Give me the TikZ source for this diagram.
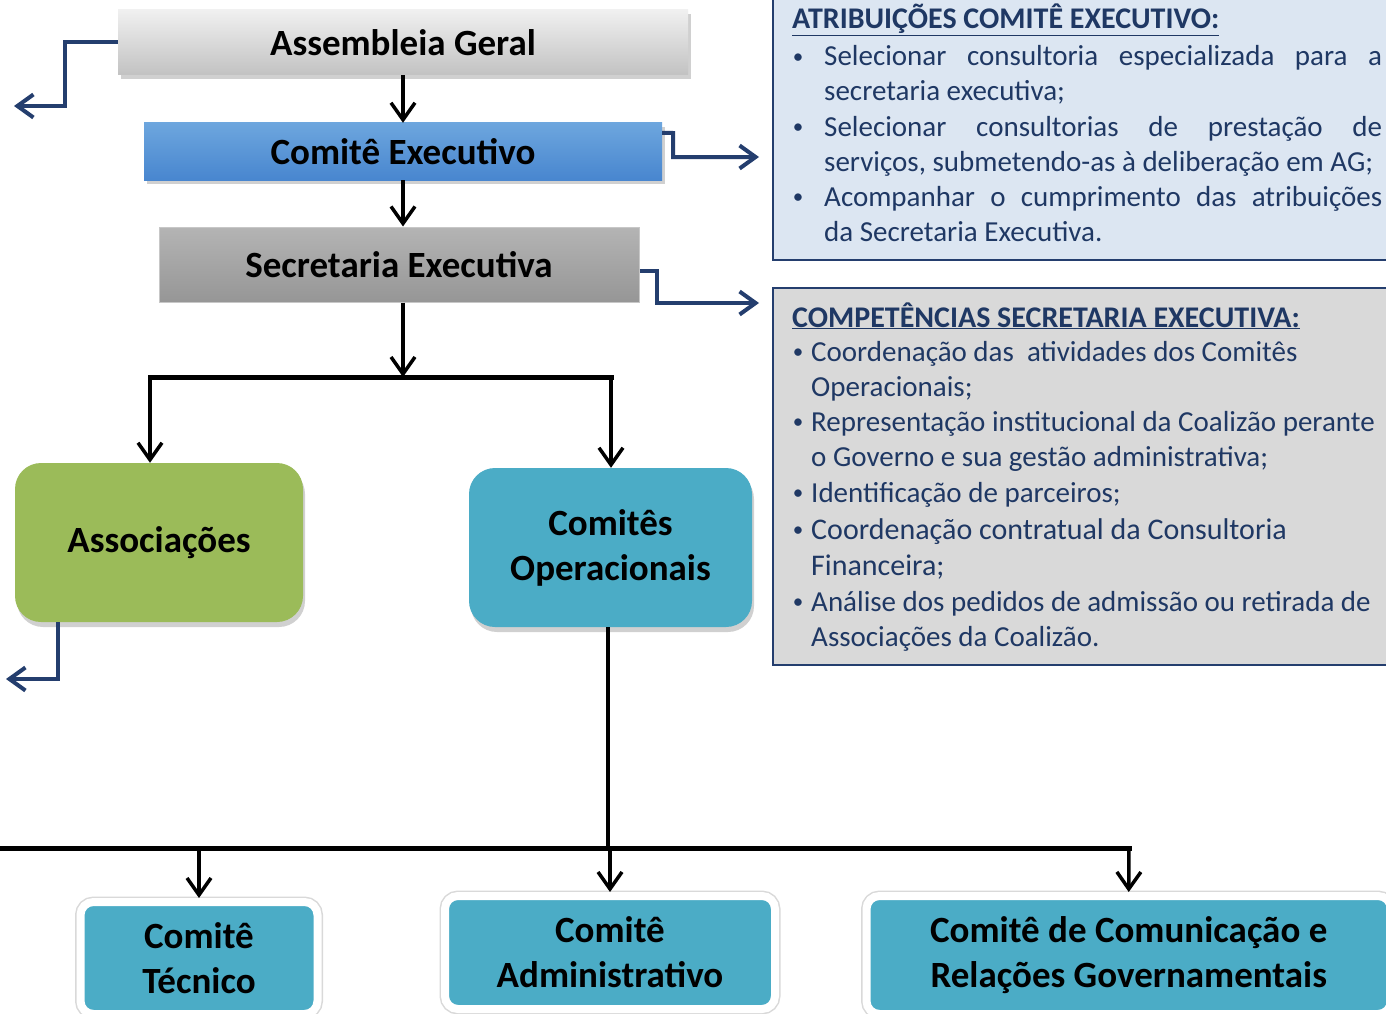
\documentclass[tikz,border=0pt]{standalone}
\usepackage{fontspec}
\setmainfont{Carlito}
\usetikzlibrary{arrows.meta,shadows}
\definecolor{navy}{HTML}{243E6E}
\definecolor{txtnavy}{HTML}{1F3864}
\definecolor{agtop}{HTML}{F0F0F0}
\definecolor{agbot}{HTML}{C2C2C2}
\definecolor{cetop}{HTML}{6DA6DE}
\definecolor{cebot}{HTML}{4886CF}
\definecolor{setop}{HTML}{B4B4B4}
\definecolor{sebot}{HTML}{969696}
\definecolor{grn}{HTML}{9BBB59}
\definecolor{tealc}{HTML}{4BACC6}
\definecolor{pan1}{HTML}{DCE6F2}
\definecolor{pan2}{HTML}{D9D9D9}
\tikzset{
  lbl/.style={inner sep=0pt, align=center, font=\bfseries\fontsize{37}{45}\selectfont, text=black},
  flatbox/.style={lbl},
  roundbox/.style={lbl, rounded corners=26pt, drop shadow={shadow xshift=2pt, shadow yshift=-5pt, opacity=0.3, fill=black!60}},
  btmbox/.style={lbl, fill=tealc, draw=white, line width=8pt, rounded corners=13pt, preaction={draw=black!15, line width=11pt}},
  blk/.style={draw=black, line width=3.5pt, -{Straight Barb[length=17pt,width=24pt]}},
  barline/.style={draw=black, line width=5pt, line cap=rect},
  stem/.style={draw=black, line width=3.5pt},
  bl/.style={draw=navy, line width=4pt, -{Straight Barb[length=16pt,width=23pt]}},
  panel/.style={draw=navy, line width=2pt},
  body/.style={anchor=base west, inner sep=0pt, text=txtnavy, font=\fontsize{29}{35}\selectfont},
  bodyb/.style={body, font=\fontsize{30}{35}\selectfont},
  ttl/.style={anchor=base west, inner sep=0pt, text=txtnavy, font=\bfseries\fontsize{30}{35}\selectfont},
  bul/.style={anchor=base, inner sep=0pt, text=txtnavy, font=\fontsize{21}{35}\selectfont},
}
\newcommand{\bdot}{\raisebox{2.5pt}{•}}
\begin{document}
\begin{tikzpicture}[x=1pt,y=-1pt]
\useasboundingbox (0,0) rectangle (1386,1014);
\fill[white] (0,0) rectangle (1386,1014);

% panels
\draw[panel, fill=pan1] (773,-5) rectangle (1395,260);
\draw[panel, fill=pan2] (773,288) rectangle (1395,665);

% top boxes
\node[flatbox, top color=agtop, bottom color=agbot, minimum width=570pt, minimum height=65pt,
  drop shadow={shadow xshift=3pt, shadow yshift=-4pt, opacity=0.3, fill=black!60}] (ag) at (403,42.5) {Assembleia Geral};
\node[flatbox, top color=cetop, bottom color=cebot, minimum width=518pt, minimum height=57pt,
  drop shadow={shadow xshift=3pt, shadow yshift=-4pt, opacity=0.3, fill=black!60}] (ce) at (403,151.5) {Comitê Executivo};
\node[flatbox, top color=setop, bottom color=sebot, draw=black!22, line width=1pt, minimum width=480pt, minimum height=75pt] (se) at (399,264.5) {Secretaria Executiva};

% middle boxes
\node[roundbox, fill=grn, minimum width=288pt, minimum height=159pt] (as) at (159,542.5) {\raisebox{-3pt}{Associações}};
\node[roundbox, fill=tealc, minimum width=283pt, minimum height=159pt] (co) at (610.5,547.5) {\raisebox{-3pt}{Comitês}\\\raisebox{-3pt}{Operacionais}};

% bottom boxes
\node[btmbox, minimum width=237pt, minimum height=112pt] (tec) at (199,958) {Comitê\\Técnico};
\node[btmbox, minimum width=330pt, minimum height=113pt] (adm) at (610,952.5) {Comitê\\Administrativo};
\node[btmbox, minimum width=524.5pt, minimum height=118pt] (com) at (1128.75,955) {Comitê de Comunicação e\\Relações Governamentais};

% black connectors
\coordinate (j) at (403,377);
\coordinate (jl) at (150,377);
\coordinate (jr) at (611,377);
\draw[blk] (ag) -- (ce);
\draw[blk] (ce.south) -- (ce.south |- se.north);
\draw[blk] (j |- se.south) -- (j);
\draw[barline] (jl) -- (jr);
\draw[blk] (jl) -- (jl |- as.north);
\draw[blk] (jr) -- (jr |- co.north);

\coordinate (k) at (608,848);
\coordinate (kl) at (-5,848);
\coordinate (kr) at (1129,848);
\draw[stem] (k |- co.south) -- (k);
\draw[barline] (kl) -- (kr);
\draw[blk] (tec.north |- kl) -- (tec.north);
\draw[blk] (adm.north |- kl) -- (adm.north);
\draw[blk] (kr) -- (com.north);

% blue connectors
\coordinate (o1) at (14,106);
\coordinate (o2) at (759,157);
\coordinate (o3) at (759,303);
\coordinate (o4) at (6,679);
\draw[bl] (ag.west) -- (65,42.5) |- (o1);
\draw[bl] ([yshift=-10pt]ce.north east) -- (673,133) |- (o2);
\draw[bl] ([yshift=-6.5pt]se.east) -- (657,271) |- (o3);
\draw[bl] ([xshift=-101pt]as.south) |- (o4);

% panel 1 text
\node[ttl] (h1) at (792,29) {\underline{ATRIBUIÇÕES COMITÊ EXECUTIVO:}};
\node[bul] (p1b1) at (798,66) {\bdot};
\node[body] (p1l1) at (824,66) {\makebox[558pt][s]{Selecionar consultoria especializada para a}};
\node[body] (p1l2) at (824,101) {secretaria executiva;};
\node[bul] (p1b2) at (798,136) {\bdot};
\node[body] (p1l3) at (824,136) {\makebox[558pt][s]{Selecionar consultorias de prestação de}};
\node[body] (p1l4) at (824,171) {serviços, submetendo-as à deliberação em AG;};
\node[bul] (p1b3) at (798,206) {\bdot};
\node[body] (p1l5) at (824,206) {\makebox[558pt][s]{Acompanhar o cumprimento das atribuições}};
\node[body] (p1l6) at (824,241) {da Secretaria Executiva.};

% panel 2 text
\node[ttl] (h2) at (792,327) {\underline{COMPETÊNCIAS SECRETARIA EXECUTIVA:}};
\node[bul] (p2b1) at (798,361) {\bdot};
\node[body] (p2l1) at (811,361) {Coordenação das\ \ atividades dos Comitês};
\node[body] (p2l2) at (811,396) {Operacionais;};
\node[bul] (p2b2) at (798,431) {\bdot};
\node[body] (p2l3) at (811,431) {Representação institucional da Coalizão perante};
\node[body] (p2l4) at (811,466) {o Governo e sua gestão administrativa;};
\node[bul] (p2b3) at (798,502) {\bdot};
\node[body] (p2l5) at (811,502) {Identificação de parceiros;};
\node[bul] (p2b4) at (798,539) {\bdot};
\node[bodyb] (p2l6) at (811,539) {Coordenação contratual da Consultoria};
\node[bodyb] (p2l7) at (811,575) {Financeira;};
\node[bul] (p2b5) at (798,611) {\bdot};
\node[body] (p2l8) at (811,611) {Análise dos pedidos de admissão ou retirada de};
\node[body] (p2l9) at (811,646) {Associações da Coalizão.};
\end{tikzpicture}
\end{document}
